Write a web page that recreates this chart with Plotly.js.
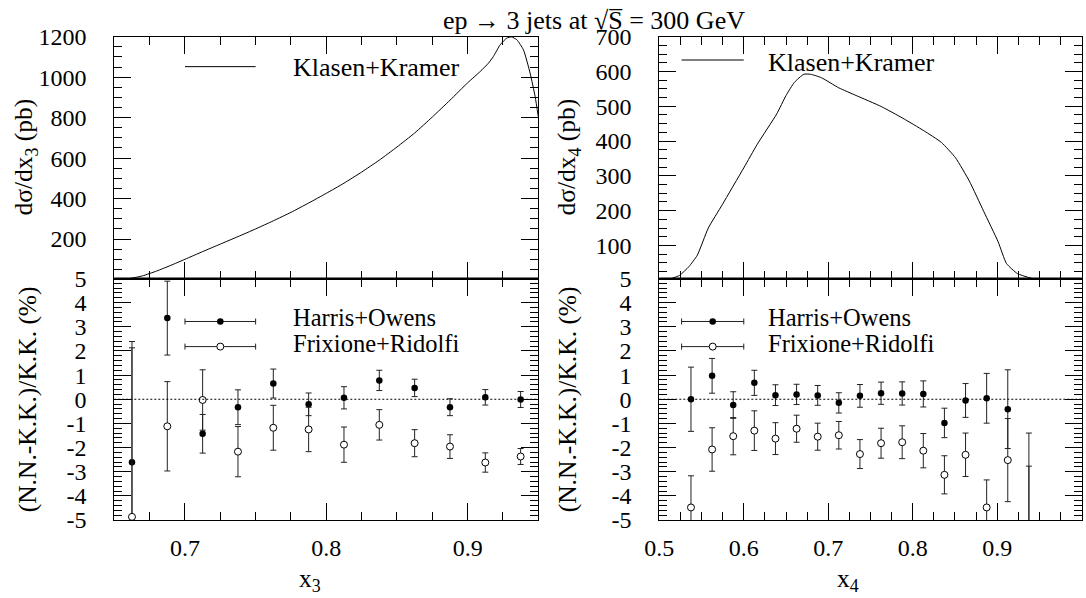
<!DOCTYPE html>
<html>
<head>
<meta charset="utf-8">
<script src="https://cdn.plot.ly/plotly-3.0.1.min.js"></script>
<style>
html,body{margin:0;padding:0;background:#fff;}
#chart{width:1086px;height:598px;}
</style>
</head>
<body>
<div id="chart"></div>
<script>
// ---------- DATA ----------
// Klasen+Kramer dsigma/dx3 (pb)
const kkX3 = [0.656, 0.6625, 0.67, 0.68, 0.69, 0.7, 0.7125, 0.725, 0.7375, 0.75, 0.7625, 0.775, 0.7875, 0.8, 0.8125, 0.825, 0.8375, 0.85, 0.8625, 0.875, 0.8875, 0.9, 0.9089, 0.9147, 0.9182, 0.923, 0.9277, 0.931, 0.9348, 0.9395, 0.9442, 0.9478, 0.95];
const kkY3 = [2, 7, 18, 42, 70, 100, 138, 175, 212, 250, 290, 332, 378, 426, 476, 531, 590, 655, 724, 803, 886, 972, 1028, 1069, 1102, 1160, 1193, 1199, 1185, 1135, 1020, 903, 804];
// Klasen+Kramer dsigma/dx4 (pb)
const kkX4 = [0.513, 0.524, 0.535, 0.545, 0.558, 0.5745, 0.6, 0.616, 0.639, 0.65, 0.66, 0.671, 0.679, 0.692, 0.7125, 0.733, 0.763, 0.788, 0.813, 0.834, 0.8506, 0.867, 0.884, 0.901, 0.911, 0.924, 0.9427];
const kkY4 = [4, 14, 39, 72, 150, 217, 323, 391, 478, 531, 569, 592, 592, 582, 553, 531, 499, 466, 430, 396, 352, 285, 198, 111, 48, 19, 4];

// ratio points, x3 bins
const binsX3 = [0.6625, 0.6875, 0.7125, 0.7375, 0.7625, 0.7875, 0.8125, 0.8375, 0.8625, 0.8875, 0.9125, 0.9375];
const hoX3 = [-2.61, 3.36, -1.43, -0.33, 0.65, -0.21, 0.06, 0.78, 0.47, -0.33, 0.08, -0.01];
const hoX3Err = [5.0, 1.53, 0.8, 0.72, 0.6, 0.47, 0.46, 0.42, 0.36, 0.35, 0.32, 0.33];
const frX3 = [-4.87, -1.12, -0.03, -2.17, -1.18, -1.25, -1.88, -1.06, -1.82, -1.96, -2.62, -2.37];
const frX3Err = [7.0, 1.85, 1.25, 1.04, 0.93, 0.92, 0.73, 0.63, 0.56, 0.49, 0.4, 0.33];

// ratio points, x4 bins
const binsX4 = [0.5375, 0.5625, 0.5875, 0.6125, 0.6375, 0.6625, 0.6875, 0.7125, 0.7375, 0.7625, 0.7875, 0.8125, 0.8375, 0.8625, 0.8875, 0.9125, 0.9375];
const hoX4 = [0.0, 0.97, -0.24, 0.68, 0.17, 0.2, 0.16, -0.15, 0.14, 0.25, 0.24, 0.22, -0.98, -0.05, 0.04, -0.41, -6.5];
const hoX4Err = [1.33, 0.72, 0.55, 0.52, 0.43, 0.42, 0.41, 0.42, 0.47, 0.46, 0.48, 0.54, 0.61, 0.7, 1.03, 1.63, 5.1];
const frX4 = [-4.48, -2.08, -1.53, -1.3, -1.63, -1.22, -1.55, -1.49, -2.27, -1.82, -1.78, -2.13, -3.13, -2.3, -4.48, -2.52, -7.5];
const frX4Err = [1.31, 0.9, 0.77, 0.82, 0.66, 0.56, 0.56, 0.57, 0.6, 0.62, 0.68, 0.71, 0.79, 0.9, 1.14, 1.72, 4.73];

const topTicks3 = [5, 200, 400, 600, 800, 1000, 1200];
const topTicks4 = [5, 100, 200, 300, 400, 500, 600, 700];
const ratioTicks = [-5, -4, -3, -2, -1, 0, 1, 2, 3, 4];
const ratioTickText = ['-5', '-4', '-3', '-2', '-1', '0', '1', '2', '3', '4'];

const seriesNames = ['Klasen+Kramer', 'Harris+Owens', 'Frixione+Ridolfi'];

// ---------- LAYOUT ----------
const W = 1086, H = 598;
const FONT = 'Liberation Serif';
const px = v => v / W;
const py = v => 1 - v / H;
const domL = [px(114.3), px(538.3)];
const domR = [px(659.3), px(1081.7)];
const domT = [py(278.5), py(36.7)];
const domB = [py(520), py(278.5)];

const filled = {symbol: 'circle', size: 6.5, color: 'black', line: {color: 'black', width: 0}};
const openM = {symbol: 'circle', size: 7, color: 'white', line: {color: 'black', width: 1}};
const ebar = arr => ({type: 'data', array: arr, visible: true, color: '#222', thickness: 1, width: 3});

const traces = [
  {x: kkX3, y: kkY3, xaxis: 'x', yaxis: 'y', mode: 'lines', line: {color: 'black', width: 1, shape: 'spline', smoothing: 0.5}, showlegend: false},
  {x: kkX4, y: kkY4, xaxis: 'x3', yaxis: 'y3', mode: 'lines', line: {color: 'black', width: 1, shape: 'spline', smoothing: 0.5}, showlegend: false},
  {x: binsX3, y: hoX3, error_y: ebar(hoX3Err), xaxis: 'x2', yaxis: 'y2', mode: 'markers', marker: filled, showlegend: false},
  {x: binsX3, y: frX3, error_y: ebar(frX3Err), xaxis: 'x2', yaxis: 'y2', mode: 'markers', marker: openM, showlegend: false},
  {x: binsX4, y: hoX4, error_y: ebar(hoX4Err), xaxis: 'x4', yaxis: 'y4', mode: 'markers', marker: filled, showlegend: false},
  {x: binsX4, y: frX4, error_y: ebar(frX4Err), xaxis: 'x4', yaxis: 'y4', mode: 'markers', marker: openM, showlegend: false}
];

// legend keys (drawn inside the panels like the original)
const legBL = {xc: 0.725, hw: 0.025, textX: 0.7753, yHO: 3.22, yFR: 2.18, tHO: 3.37, tFR: 2.31};
const legBR = {xc: 0.5632, hw: 0.0368, textX: 0.6268, yHO: 3.22, yFR: 2.18, tHO: 3.37, tFR: 2.31};
const legKey = (L, xa, ya, yv, m) => ({x: [L.xc], y: [yv], xaxis: xa, yaxis: ya, mode: 'markers', marker: m, showlegend: false,
  error_x: {type: 'constant', value: L.hw, visible: true, color: '#222', thickness: 1, width: 3}});
traces.push(legKey(legBL, 'x2', 'y2', legBL.yHO, filled));
traces.push(legKey(legBL, 'x2', 'y2', legBL.yFR, openM));
traces.push(legKey(legBR, 'x4', 'y4', legBR.yHO, filled));
traces.push(legKey(legBR, 'x4', 'y4', legBR.yFR, openM));

const tickFont = {family: FONT, size: 24, color: 'black'};
const baseAx = {showline: true, linecolor: 'black', linewidth: 1, mirror: 'ticks', ticks: 'inside', tickcolor: 'black', tickwidth: 1, ticklen: 17, showgrid: false, zeroline: false, tickfont: tickFont, fixedrange: true};
const xAx = (dom, anchor, range, labels) => Object.assign({}, baseAx, {domain: dom, anchor: anchor, range: range, tickmode: 'linear', tick0: 0, dtick: 0.1, showticklabels: labels, ticklabelstandoff: 6,
  minor: {tickmode: 'linear', tick0: 0, dtick: 0.025, ticks: 'inside', ticklen: 8, tickcolor: 'black', tickwidth: 1, showgrid: false}});
const yAx = (dom, anchor, range, vals, text, minorD) => Object.assign({}, baseAx, {domain: dom, anchor: anchor, range: range, tickmode: 'array', tickvals: vals, ticktext: text, ticklabelstandoff: 22,
  minor: {tickmode: 'linear', tick0: 0, dtick: minorD, ticks: 'inside', ticklen: 8, tickcolor: 'black', tickwidth: 1, showgrid: false}});

const ann = [];
const txt = (text, xref, yref, x, y, size, opts) => ann.push(Object.assign({text: text, xref: xref, yref: yref, x: x, y: y, showarrow: false, font: {family: FONT, size: size, color: 'black'}, xanchor: 'left', yanchor: 'middle'}, opts || {}));
// legend texts
txt(seriesNames[0], 'x', 'y', 0.7753, 1046, 26);
txt(seriesNames[0], 'x3', 'y3', 0.6268, 625, 26);
txt(seriesNames[1], 'x2', 'y2', legBL.textX, legBL.tHO, 24.5);
txt(seriesNames[2], 'x2', 'y2', legBL.textX, legBL.tFR, 24.5);
txt(seriesNames[1], 'x4', 'y4', legBR.textX, legBR.tHO, 24.5);
txt(seriesNames[2], 'x4', 'y4', legBR.textX, legBR.tFR, 24.5);
// axis titles
txt('dσ/dx<sub>3</sub> (pb)', 'paper', 'paper', px(25), py(157.6), 25.5, {xanchor: 'center', textangle: -90});
txt('(N.N.-K.K.)/K.K. (%)', 'paper', 'paper', px(27), py(399.3), 25.5, {xanchor: 'center', textangle: -90});
txt('dσ/dx<sub>4</sub> (pb)', 'paper', 'paper', px(568), py(157.6), 25.5, {xanchor: 'center', textangle: -90});
txt('(N.N.-K.K.)/K.K. (%)', 'paper', 'paper', px(567), py(399.3), 25.5, {xanchor: 'center', textangle: -90});
txt('x<sub>3</sub>', 'paper', 'paper', px(310), py(580), 25.5, {xanchor: 'center'});
txt('x<sub>4</sub>', 'paper', 'paper', px(848), py(580), 25.5, {xanchor: 'center'});

const shapes = [
  // zero reference lines
  {type: 'line', xref: 'x2 domain', yref: 'y2', x0: 0, x1: 1, y0: 0, y1: 0, line: {color: 'black', width: 1, dash: '2px,2px'}},
  {type: 'line', xref: 'x4 domain', yref: 'y4', x0: 0, x1: 1, y0: 0, y1: 0, line: {color: 'black', width: 1, dash: '2px,2px'}},
  // thick panel separators
  {type: 'line', xref: 'paper', yref: 'paper', x0: domL[0], x1: domL[1], y0: domT[0], y1: domT[0], line: {color: 'black', width: 2}},
  {type: 'line', xref: 'paper', yref: 'paper', x0: domR[0], x1: domR[1], y0: domT[0], y1: domT[0], line: {color: 'black', width: 2}},
  // Klasen+Kramer legend lines
  {type: 'line', xref: 'x', yref: 'y', x0: 0.7, x1: 0.75, y0: 1052, y1: 1052, line: {color: 'black', width: 1}},
  {type: 'line', xref: 'x3', yref: 'y3', x0: 0.5264, x1: 0.6, y0: 633, y1: 633, line: {color: 'black', width: 1}}
];

const layout = {
  width: W, height: H,
  margin: {l: 0, r: 0, t: 0, b: 0},
  paper_bgcolor: 'white', plot_bgcolor: 'white',
  showlegend: false,
  font: {family: FONT, size: 24, color: 'black'},
  title: {text: 'ep → 3 jets at √S\u0305 = 300 GeV', font: {family: FONT, size: 26, color: 'black'},
    xref: 'container', yref: 'container', x: 594 / W, xanchor: 'center', y: 1 - 20 / H, yanchor: 'middle'},
  xaxis: xAx(domL, 'y', [0.65, 0.95], false),
  yaxis: yAx(domT, 'x', [5, 1200], topTicks3, topTicks3.map(String), 50),
  xaxis2: xAx(domL, 'y2', [0.65, 0.95], true),
  yaxis2: yAx(domB, 'x2', [-5, 5], ratioTicks, ratioTickText, 0.2),
  xaxis3: xAx(domR, 'y3', [0.5, 1.0], false),
  yaxis3: yAx(domT, 'x3', [5, 700], topTicks4, topTicks4.map(String), 25),
  xaxis4: xAx(domR, 'y4', [0.5, 1.0], true),
  yaxis4: yAx(domB, 'x4', [-5, 5], ratioTicks, ratioTickText, 0.2),
  annotations: ann,
  shapes: shapes
};

Plotly.newPlot('chart', traces, layout, {staticPlot: true, displayModeBar: false});
</script>
</body>
</html>
